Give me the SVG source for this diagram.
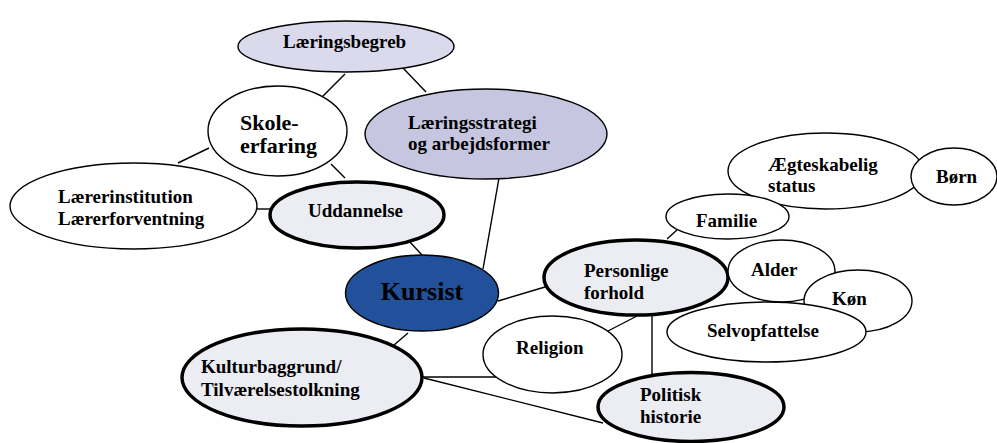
<svg xmlns="http://www.w3.org/2000/svg" width="997" height="443" viewBox="0 0 997 443">
<style>
text{font-family:"Liberation Serif","Times New Roman",serif;font-weight:bold;font-size:19px;fill:#000}
.thin{stroke:#000;stroke-width:1.4}
.thick{stroke:#000;stroke-width:3.5}
.w{fill:#fff}
.pale{fill:#ececf3}
.lb{fill:#dadaec}
.ls{fill:#c6c6e1}
.k{fill:#22509b}
#connectors line{stroke:#000;stroke-width:1.4}
</style>
<rect width="997" height="443" fill="#fff"/>
<g id="connectors">
<line x1="345" y1="74" x2="322" y2="97"/>
<line x1="403" y1="68" x2="426" y2="92"/>
<line x1="209" y1="148" x2="178" y2="163"/>
<line x1="331" y1="164" x2="345" y2="178"/>
<line x1="255" y1="209" x2="270" y2="209"/>
<line x1="499" y1="178" x2="483" y2="269"/>
<line x1="408" y1="240" x2="422" y2="255"/>
<line x1="498" y1="301" x2="545" y2="287"/>
<line x1="408" y1="333" x2="394" y2="345"/>
<line x1="422" y1="377" x2="496" y2="377"/>
<line x1="424" y1="378" x2="603" y2="423"/>
<line x1="608" y1="331" x2="637" y2="316"/>
<line x1="652" y1="316" x2="652" y2="375"/>
<line x1="667" y1="239" x2="677" y2="230"/>
</g>
<g id="laeringsbegreb"><ellipse class="lb thin" cx="346" cy="46.5" rx="108" ry="25.5"/><text x="283" y="48">Læringsbegreb</text></g>
<g id="skoleerfaring"><ellipse class="w thin" cx="277.5" cy="131" rx="69.5" ry="45"/><text x="240" y="130" style="font-size:22px">Skole-</text><text x="240" y="153" style="font-size:22px">erfaring</text></g>
<g id="laeringsstrategi"><ellipse class="ls thin" cx="486" cy="134" rx="121" ry="45"/><text x="408" y="129">Læringsstrategi</text><text x="408" y="150">og arbejdsformer</text></g>
<g id="laererinstitution"><ellipse class="w thin" cx="133.5" cy="206" rx="123.5" ry="43"/><text x="58" y="203">Lærerinstitution</text><text x="58" y="225">Lærerforventning</text></g>
<g id="uddannelse"><ellipse class="pale thick" cx="357" cy="215" rx="87" ry="33"/><text x="308" y="217">Uddannelse</text></g>
<g id="kursist"><ellipse class="k thin" cx="422" cy="293" rx="76.5" ry="38"/><text x="422" y="300" text-anchor="middle" style="font-size:26px">Kursist</text></g>
<g id="kulturbaggrund"><ellipse class="pale thick" cx="302" cy="377.5" rx="120" ry="48.5"/><text x="201" y="373">Kulturbaggrund/</text><text x="201" y="396">Tilværelsestolkning</text></g>
<g id="religion"><ellipse class="w thin" cx="552.5" cy="354.5" rx="69.5" ry="38.5"/><text x="516" y="354">Religion</text></g>
<g id="personlige"><ellipse class="pale thick" cx="636" cy="277.5" rx="92" ry="37.5"/><text x="584" y="277">Personlige</text><text x="584" y="299">forhold</text></g>
<g id="politisk"><ellipse class="pale thick" cx="691" cy="407" rx="93" ry="34.5"/><text x="640" y="401">Politisk</text><text x="640" y="423">historie</text></g>
<g id="aegteskabelig"><ellipse class="w thin" cx="825.5" cy="171" rx="97.5" ry="38"/><text x="768" y="171">Ægteskabelig</text><text x="768" y="192">status</text></g>
<g id="boern"><ellipse class="w thin" cx="954" cy="176.5" rx="43" ry="28.5"/><text x="936" y="183">Børn</text></g>
<g id="familie"><ellipse class="w thin" cx="727.5" cy="216.5" rx="61.5" ry="22.5"/><text x="696" y="227">Familie</text></g>
<g id="alder"><ellipse class="w thin" cx="781.5" cy="271" rx="53.5" ry="31"/><text x="751" y="276">Alder</text></g>
<g id="koen"><ellipse class="w thin" cx="858" cy="301" rx="54" ry="31"/><text x="832" y="305">Køn</text></g>
<g id="selvopfattelse"><ellipse class="w thin" cx="766.5" cy="332" rx="99.5" ry="30"/><text x="707" y="337">Selvopfattelse</text></g>
</svg>
